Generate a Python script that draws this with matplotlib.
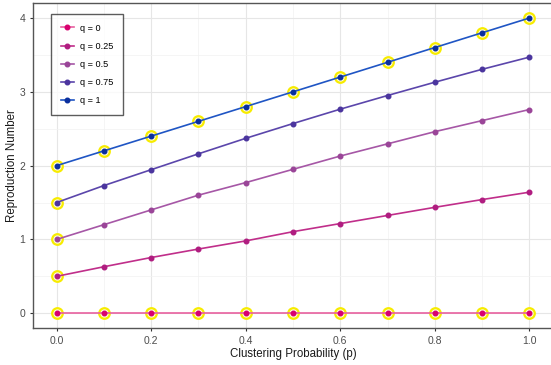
import numpy as np
import matplotlib.pyplot as plt
from matplotlib.ticker import MultipleLocator

plt.rcParams['font.family'] = ['Liberation Sans', 'DejaVu Sans']

# clustering probability p
p_values = [0.0, 0.1, 0.2, 0.3, 0.4, 0.5, 0.6, 0.7, 0.8, 0.9, 1.0]

# reproduction number for each q
r_q0 = [0, 0, 0, 0, 0, 0, 0, 0, 0, 0, 0]
r_q025 = [0.50, 0.63, 0.755, 0.87, 0.98, 1.105, 1.215, 1.325, 1.435, 1.54, 1.64]
r_q05 = [1.00, 1.20, 1.40, 1.60, 1.77, 1.95, 2.13, 2.295, 2.46, 2.61, 2.76]
r_q075 = [1.50, 1.73, 1.945, 2.16, 2.37, 2.57, 2.765, 2.95, 3.13, 3.305, 3.47]
r_q1 = [2.0, 2.2, 2.4, 2.6, 2.8, 3.0, 3.2, 3.4, 3.6, 3.8, 4.0]

labels = ['q = 0', 'q = 0.25', 'q = 0.5', 'q = 0.75', 'q = 1']
line_colors = ['#e8609f', '#c02e8a', '#a657a6', '#5b46ab', '#1f55c4']
point_colors = ['#d8006f', '#b01d80', '#9a4598', '#4b359e', '#0a2f9e']

series = [r_q0, r_q025, r_q05, r_q075, r_q1]
# highlighted points: every point for q = 0 and q = 1, first point otherwise
highlight = [list(range(11)), [0], [0], [0], list(range(11))]

fig = plt.figure(figsize=(5.51, 3.65), dpi=100)
ax = fig.add_axes([33 / 551, 37 / 365, 520 / 551, 324.75 / 365])

p = np.array(p_values)
for vals, idx in zip(series, highlight):
    v = np.array(vals)
    ax.scatter(p[idx], v[idx], s=58, facecolor='#fffbe0', edgecolor='#f7ec00',
               linewidth=1.6, zorder=2)

for vals, lab, lc, pc in zip(series, labels, line_colors, point_colors):
    ax.plot(p_values, vals, color=lc, linewidth=1.2, marker='o', markersize=3.3,
            markerfacecolor=pc, markeredgecolor=pc, label=lab, zorder=3)

ax.set_xlim(-0.05, 1.05)
ax.set_ylim(-0.2, 4.2)
ax.xaxis.set_major_locator(MultipleLocator(0.2))
ax.xaxis.set_minor_locator(MultipleLocator(0.1))
ax.yaxis.set_major_locator(MultipleLocator(1))
ax.yaxis.set_minor_locator(MultipleLocator(0.5))
ax.xaxis.set_major_formatter(plt.FuncFormatter(lambda x, _: f'{x:.1f}'))

ax.grid(which='major', color='#e6e6e6', linewidth=0.8)
ax.grid(which='minor', color='#f2f2f2', linewidth=0.5)
ax.set_axisbelow(True)
ax.tick_params(which='both', length=0)
ax.tick_params(which='major', length=2.5, color='#333333', labelsize=7.5,
               labelcolor='#4d4d4d', pad=3)

for side in ['left', 'bottom', 'top']:
    ax.spines[side].set_color('#555555')
    ax.spines[side].set_linewidth(1.0)
ax.spines['right'].set_visible(False)

ax.set_xlabel('Clustering Probability (p)', fontsize=8.3, color='#1a1a1a', labelpad=2)
ax.set_ylabel('Reproduction Number', fontsize=8.3, color='#1a1a1a', labelpad=1)

leg = ax.legend(loc='upper left', bbox_to_anchor=(0.0346, 0.967), fontsize=6.6,
                frameon=True, fancybox=False, handlelength=1.5,
                borderpad=1.05, labelspacing=1.0, handletextpad=0.6,
                borderaxespad=0)
leg.get_frame().set_edgecolor('#333333')
leg.get_frame().set_linewidth(1.0)

fig.savefig('out.png', dpi=100)
